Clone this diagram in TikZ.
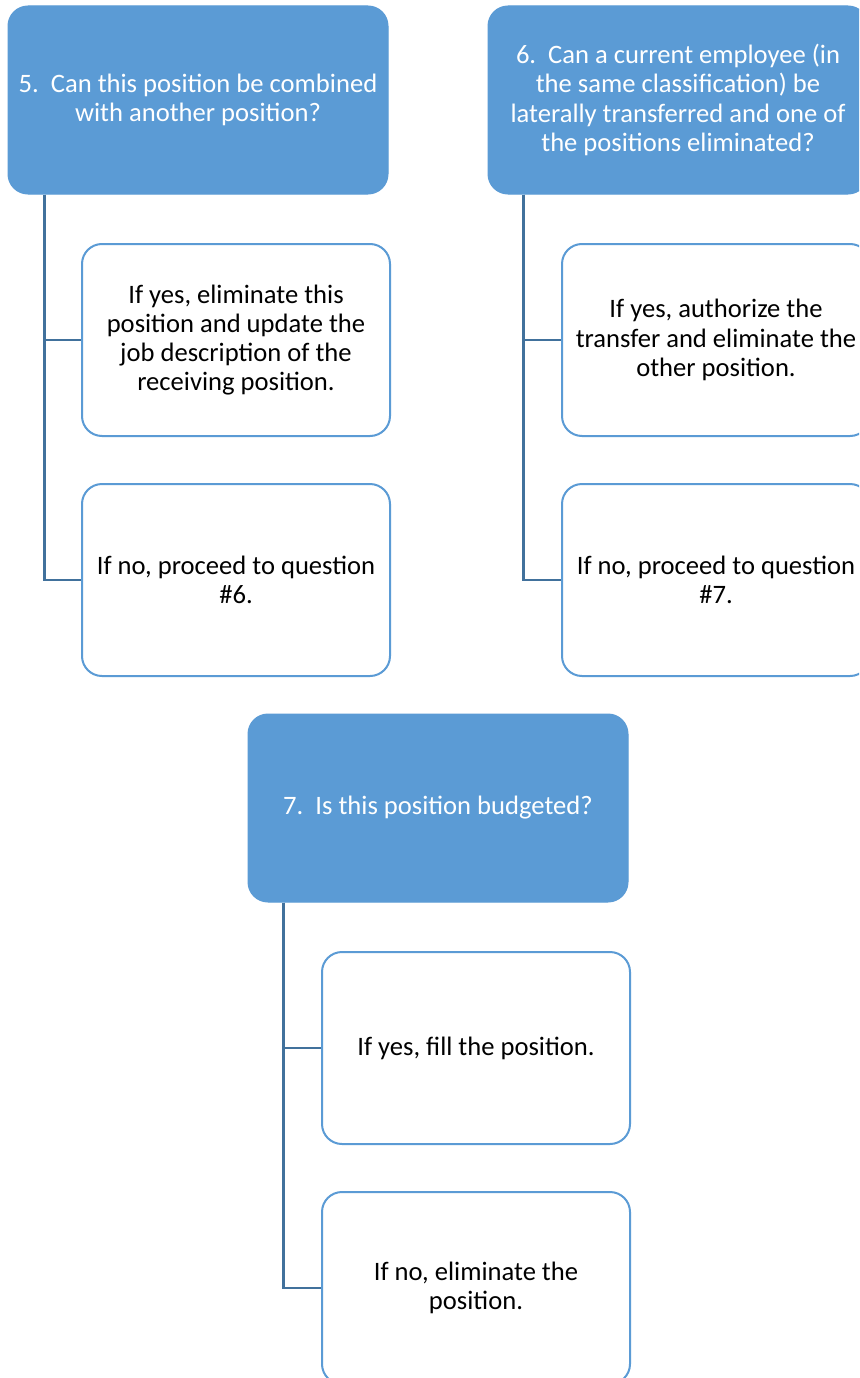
\documentclass[tikz,border=0pt]{standalone}
\usepackage{fontspec}
\setmainfont{Carlito}
\definecolor{accent}{HTML}{5B9BD5}
\definecolor{connc}{HTML}{41719C}
\begin{document}
\begin{tikzpicture}[x=1pt,y=-1pt,
  parentbox/.style={rectangle,rounded corners=20pt,fill=accent,draw=accent,line width=1pt,
    minimum width=380pt,minimum height=188pt,align=center,text=white,
    font=\fontsize{26.6}{29.2}\selectfont,inner sep=0pt},
  childbox/.style={rectangle,rounded corners=20pt,fill=white,draw=accent,line width=2pt,
    minimum width=308pt,minimum height=192pt,align=center,text=black,
    font=\fontsize{26.6}{29.2}\selectfont,inner sep=0pt},
  conn/.style={draw=connc,line width=2.5pt}]
\clip (0,0) rectangle (859,1378);
\useasboundingbox (0,0) rectangle (859,1378);
\fill[white] (0,0) rectangle (859,1378);

\node[parentbox] (p5) at (198,100) {5.\ \ Can this position be combined\\with another position?};
\node[parentbox] (p6) at (678,100) {6.\ \ Can a current employee (in\\the same classification) be\\laterally transferred and one of\\the positions eliminated?};
\node[parentbox] (p7) at (438,808) {7.\ \ Is this position budgeted?};

\node[childbox] (c5a) at (236,340) {If yes, eliminate this\\position and update the\\job description of the\\receiving position.};
\node[childbox] (c5b) at (236,580) {If no, proceed to question\\\#6.};
\node[childbox] (c6a) at (716,340) {If yes, authorize the\\transfer and eliminate the\\other position.};
\node[childbox] (c6b) at (716,580) {If no, proceed to question\\\#7.};
\node[childbox] (c7a) at (476,1048) {If yes, fill the position.};
\node[childbox] (c7b) at (476,1288) {If no, eliminate the\\position.};

\draw[conn] ([xshift=37pt]p5.south west) |- (c5a.west);
\draw[conn] ([xshift=37pt]p5.south west) |- (c5b.west);
\draw[conn] ([xshift=36pt]p6.south west) |- (c6a.west);
\draw[conn] ([xshift=36pt]p6.south west) |- (c6b.west);
\draw[conn] ([xshift=36pt]p7.south west) |- (c7a.west);
\draw[conn] ([xshift=36pt]p7.south west) |- (c7b.west);
\end{tikzpicture}
\end{document}
